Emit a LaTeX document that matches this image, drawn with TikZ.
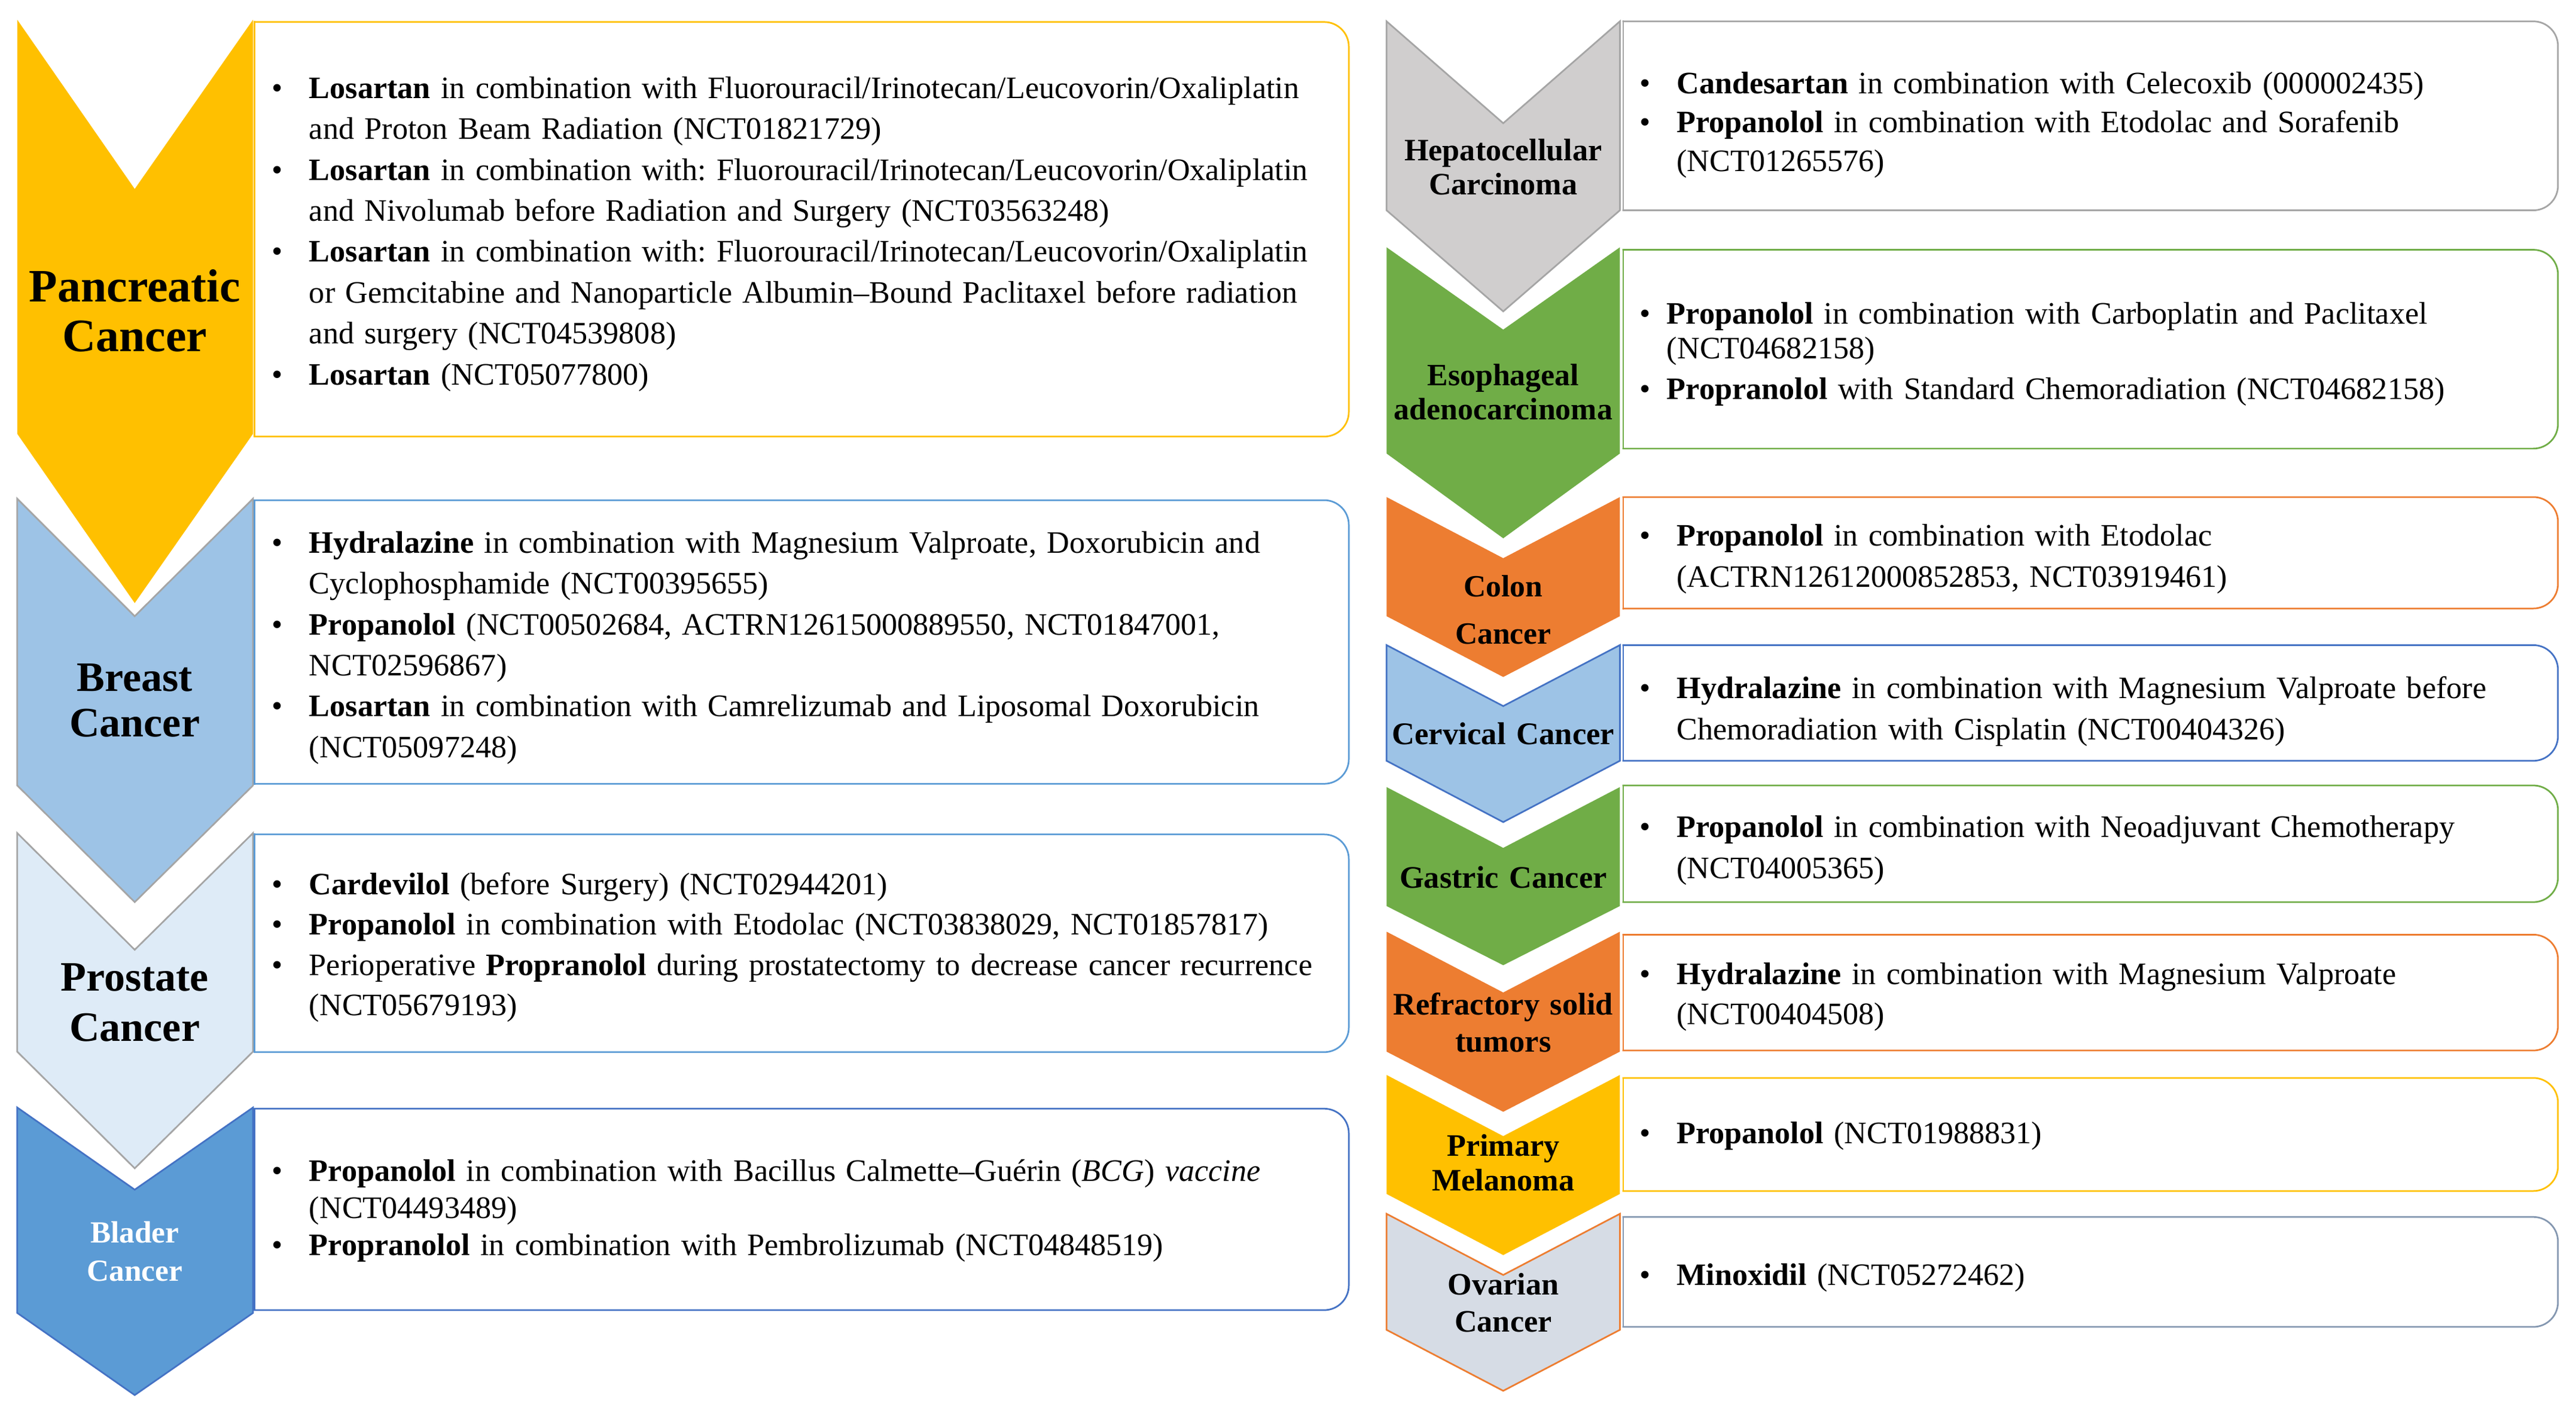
\documentclass[tikz,border=0pt]{standalone}
\usepackage{fontspec}
\setmainfont{Liberation Serif}
\frenchspacing

\definecolor{cYellow}{HTML}{FFC000}
\definecolor{cBlueL}{HTML}{9DC3E6}
\definecolor{cBluePale}{HTML}{DEEBF7}
\definecolor{cBlue}{HTML}{5B9BD5}
\definecolor{cBlueD}{HTML}{4472C4}
\definecolor{cGray}{HTML}{A5A5A5}
\definecolor{cGrayL}{HTML}{D0CECE}
\definecolor{cGreen}{HTML}{70AD47}
\definecolor{cOrange}{HTML}{ED7D31}
\definecolor{cSlate}{HTML}{D6DCE5}
\definecolor{cSlateD}{HTML}{8497B0}

% bullet with hanging indent
\newcommand{\bul}[1]{\noindent\hangindent=#1\hangafter=1\makebox[#1][l]{\textbullet}}

\tikzset{
  chevron/.style={line width=1pt, line join=miter},
  infobox/.style={line width=1pt, rounded corners=15pt, line cap=rect},
  boxedge/.style={line width=1pt, line cap=rect},
  chevtext/.style={inner sep=0pt, anchor=base, text width=150pt, align=center},
  bodyL/.style={inner sep=0pt, anchor=base west, text width=700pt, align=left,
    font=\fontsize{19}{24.9}\selectfont},
  bodyR/.style={inner sep=0pt, anchor=base west, text width=600pt, align=left,
    font=\fontsize{19}{25}\selectfont},
}

\begin{document}
\begin{tikzpicture}[x=1pt,y=-1pt]
  \useasboundingbox (0,0) rectangle (1568,858);

  % left column chevrons
  \fill[cYellow] (10.5,12) -- (82,115) -- (154,12) -- (154,264) -- (82,367) -- (10.5,264) -- cycle;
  \draw[chevron, fill=cBlueL, draw=cGray] (10.5,303.5) -- (82,375) -- (154,303.5) -- (154,478) -- (82,549) -- (10.5,478) -- cycle;
  \draw[chevron, fill=cBluePale, draw=cGray] (10.5,507) -- (82,578) -- (154,507) -- (154,640) -- (82,711) -- (10.5,640) -- cycle;
  \draw[chevron, fill=cBlue, draw=cBlueD] (10.5,674) -- (82,724) -- (154,674) -- (154,799) -- (82,849) -- (10.5,799) -- cycle;

  % right column chevrons
  \draw[chevron, fill=cGrayL, draw=cGray] (844,13) -- (915,75) -- (986,13) -- (986,128) -- (915,189.5) -- (844,128) -- cycle;
  \fill[cGreen] (844,150.5) -- (915,200.6) -- (986,150.5) -- (986,276) -- (915,327.6) -- (844,276) -- cycle;
  \fill[cOrange] (844,302.5) -- (915,339.7) -- (986,302.5) -- (986,375) -- (915,412) -- (844,375) -- cycle;
  \draw[chevron, fill=cBlueL, draw=cBlueD] (844,392.6) -- (915,429.7) -- (986,392.6) -- (986,463) -- (915,500.3) -- (844,463) -- cycle;
  \fill[cGreen] (844,479) -- (915,516) -- (986,479) -- (986,551.4) -- (915,587.4) -- (844,551.4) -- cycle;
  \fill[cOrange] (844,567) -- (915,604) -- (986,567) -- (986,640) -- (915,676.6) -- (844,640) -- cycle;
  \fill[cYellow] (844,654.2) -- (915,691.4) -- (986,654.2) -- (986,726.6) -- (915,763.8) -- (844,726.6) -- cycle;
  \draw[chevron, fill=cSlate, draw=cOrange] (844,738.7) -- (915,775.9) -- (986,738.7) -- (986,809.3) -- (915,846.4) -- (844,809.3) -- cycle;

  % left column boxes
  \draw[infobox, cYellow] (155,13.4) -- (821,13.4) -- (821,265.7) -- (155,265.7);
  \draw[boxedge, cYellow] (155,13.4) -- (155,265.7);
  \draw[infobox, cBlue] (155,304.4) -- (821,304.4) -- (821,477) -- (155,477);
  \draw[boxedge, cBlue] (155,304.4) -- (155,477);
  \draw[infobox, cBlue] (155,507.8) -- (821,507.8) -- (821,640.3) -- (155,640.3);
  \draw[boxedge, cBlue] (155,507.8) -- (155,640.3);
  \draw[infobox, cBlueD] (155,674.7) -- (821,674.7) -- (821,797.3) -- (155,797.3);
  \draw[boxedge, cBlueD] (155,674.7) -- (155,797.3);

  % right column boxes
  \draw[infobox, cGray] (988,13) -- (1557,13) -- (1557,128) -- (988,128);
  \draw[boxedge, cGray] (988,13) -- (988,128);
  \draw[infobox, cGreen] (988,152) -- (1557,152) -- (1557,273) -- (988,273);
  \draw[boxedge, cGreen] (988,152) -- (988,273);
  \draw[infobox, cOrange] (988,302.5) -- (1557,302.5) -- (1557,370.3) -- (988,370.3);
  \draw[boxedge, cOrange] (988,302.5) -- (988,370.3);
  \draw[infobox, cBlueD] (988,392.6) -- (1557,392.6) -- (1557,463) -- (988,463);
  \draw[boxedge, cBlueD] (988,392.6) -- (988,463);
  \draw[infobox, cGreen] (988,478) -- (1557,478) -- (1557,549) -- (988,549);
  \draw[boxedge, cGreen] (988,478) -- (988,549);
  \draw[infobox, cOrange] (988,568.8) -- (1557,568.8) -- (1557,639.3) -- (988,639.3);
  \draw[boxedge, cOrange] (988,568.8) -- (988,639.3);
  \draw[infobox, cYellow] (988,656) -- (1557,656) -- (1557,724.8) -- (988,724.8);
  \draw[boxedge, cYellow] (988,656) -- (988,724.8);
  \draw[infobox, cSlateD] (988,740.6) -- (1557,740.6) -- (1557,807.5) -- (988,807.5);
  \draw[boxedge, cSlateD] (988,740.6) -- (988,807.5);

  % chevron labels
  \node[chevtext, font=\bfseries\fontsize{28.3}{30.5}\selectfont] (pancreatic) at (82,183.5) {Pancreatic\\Cancer};
  \node[chevtext, font=\bfseries\fontsize{25.5}{27.8}\selectfont] (breast) at (82,420.5) {Breast\\Cancer};
  \node[chevtext, font=\bfseries\fontsize{25.5}{30.6}\selectfont] (prostate) at (82,603.2) {Prostate\\Cancer};
  \node[chevtext, text=white, font=\bfseries\fontsize{18.7}{23.2}\selectfont] (bladder) at (82,756.4) {Blader\\Cancer};
  \node[chevtext, font=\bfseries\fontsize{19}{20.8}\selectfont] (hepato) at (915,97.6) {Hepatocellular\\Carcinoma};
  \node[chevtext, font=\bfseries\fontsize{18.9}{20.8}\selectfont] (esophageal) at (915,234.5) {Esophageal\\adenocarcinoma};
  \node[chevtext, font=\bfseries\fontsize{18.8}{28.9}\selectfont] (colon) at (915,363) {Colon\\Cancer};
  \node[chevtext, font=\bfseries\fontsize{19.2}{22}\selectfont] (cervical) at (915,453) {Cervical Cancer};
  \node[chevtext, font=\bfseries\fontsize{19.1}{22}\selectfont] (gastric) at (915,540.5) {Gastric Cancer};
  \node[chevtext, font=\bfseries\fontsize{19.1}{22.6}\selectfont] (refractory) at (915,617.5) {Refractory solid\\tumors};
  \node[chevtext, font=\bfseries\fontsize{19}{21.4}\selectfont] (melanoma) at (915,703.4) {Primary\\Melanoma};
  \node[chevtext, font=\bfseries\fontsize{19}{22.6}\selectfont] (ovarian) at (915,788) {Ovarian\\Cancer};

  % trial lists, left column
  \node[bodyL] (pancreaticlist) at (165.3,59.8) {%
    \bul{22.7pt}\textbf{Losartan} in combination with Fluorouracil/Irinotecan/Leucovorin/Oxaliplatin\newline and Proton Beam Radiation (NCT01821729)\par
    \bul{22.7pt}\textbf{Losartan} in combination with: Fluorouracil/Irinotecan/Leucovorin/Oxaliplatin\newline and Nivolumab before Radiation and Surgery (NCT03563248)\par
    \bul{22.7pt}\textbf{Losartan} in combination with: Fluorouracil/Irinotecan/Leucovorin/Oxaliplatin\newline or Gemcitabine and Nanoparticle Albumin–Bound Paclitaxel before radiation\newline and surgery (NCT04539808)\par
    \bul{22.7pt}\textbf{Losartan} (NCT05077800)\par};
  \node[bodyL] (breastlist) at (165.3,336.5) {%
    \bul{22.7pt}\textbf{Hydralazine} in combination with Magnesium Valproate, Doxorubicin and\newline Cyclophosphamide (NCT00395655)\par
    \bul{22.7pt}\textbf{Propanolol} (NCT00502684, ACTRN12615000889550, NCT01847001,\newline NCT02596867)\par
    \bul{22.7pt}\textbf{Losartan} in combination with Camrelizumab and Liposomal Doxorubicin\newline (NCT05097248)\par};
  \node[bodyL, font=\fontsize{19}{24.5}\selectfont] (prostatelist) at (165.3,544.5) {%
    \bul{22.7pt}\textbf{Cardevilol} (before Surgery) (NCT02944201)\par
    \bul{22.7pt}\textbf{Propanolol} in combination with Etodolac (NCT03838029, NCT01857817)\par
    \bul{22.7pt}Perioperative \textbf{Propranolol} during prostatectomy to decrease cancer recurrence\newline (NCT05679193)\par};
  \node[bodyL, font=\fontsize{19}{22.4}\selectfont] (bladderlist) at (165.3,719) {%
    \bul{22.7pt}\textbf{Propanolol} in combination with Bacillus Calmette–Guérin (\textit{BCG}) \textit{vaccine}\newline (NCT04493489)\par
    \bul{22.7pt}\textbf{Propranolol} in combination with Pembrolizumab (NCT04848519)\par};

  % trial lists, right column
  \node[bodyR, font=\fontsize{19}{23.6}\selectfont] (hepatolist) at (998,57) {%
    \bul{22.4pt}\textbf{Candesartan} in combination with Celecoxib (000002435)\par
    \bul{22.4pt}\textbf{Propanolol} in combination with Etodolac and Sorafenib\newline (NCT01265576)\par};
  \node[bodyR, font=\fontsize{19}{20.8}\selectfont] (esophageallist) at (998,197.3) {%
    \bul{16.4pt}\textbf{Propanolol} in combination with Carboplatin and Paclitaxel\newline (NCT04682158)\par\vspace{4pt}
    \bul{16.4pt}\textbf{Propranolol} with Standard Chemoradiation (NCT04682158)\par};
  \node[bodyR] (colonlist) at (998,332.3) {%
    \bul{22.4pt}\textbf{Propanolol} in combination with Etodolac\newline (ACTRN12612000852853, NCT03919461)\par};
  \node[bodyR, font=\fontsize{19}{25.2}\selectfont] (cervicallist) at (998,425) {%
    \bul{22.4pt}\textbf{Hydralazine} in combination with Magnesium Valproate before\newline Chemoradiation with Cisplatin (NCT00404326)\par};
  \node[bodyR] (gastriclist) at (998,509.6) {%
    \bul{22.4pt}\textbf{Propanolol} in combination with Neoadjuvant Chemotherapy\newline (NCT04005365)\par};
  \node[bodyR, font=\fontsize{19}{24.6}\selectfont] (refractorylist) at (998,599) {%
    \bul{22.4pt}\textbf{Hydralazine} in combination with Magnesium Valproate\newline (NCT00404508)\par};
  \node[bodyR] (melanomalist) at (998,696) {%
    \bul{22.4pt}\textbf{Propanolol} (NCT01988831)\par};
  \node[bodyR] (ovarianlist) at (998,782.3) {%
    \bul{22.4pt}\textbf{Minoxidil} (NCT05272462)\par};
\end{tikzpicture}
\end{document}
